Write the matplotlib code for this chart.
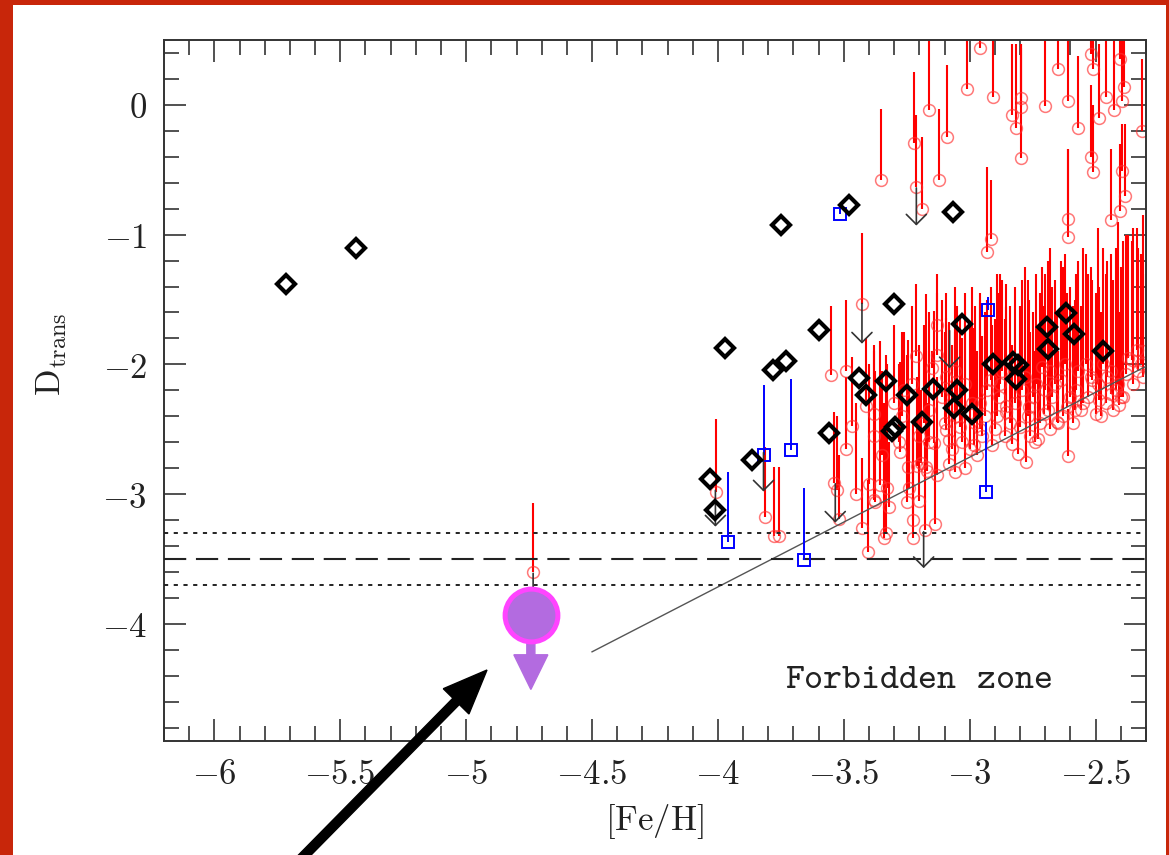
import numpy as np
import matplotlib
matplotlib.use('Agg')
import matplotlib.pyplot as plt
import matplotlib.patches as mpatches
import matplotlib.transforms as mtransforms
from matplotlib.ticker import MultipleLocator

plt.rcParams['mathtext.fontset'] = 'cm'
plt.rcParams['lines.scale_dashes'] = False

# black diamonds
dia_x = [-5.714, -5.439, -3.750, -3.479, -3.068, -3.299, -3.600, -3.030, -2.692, -2.619,
         -2.585, -3.971, -3.782, -3.731, -3.438, -3.412, -3.331, -3.250, -3.144, -3.051,
         -3.064, -2.990, -3.295, -3.308, -3.190, -3.560, -2.907, -2.830, -2.810, -2.818,
         -2.690, -2.471, -3.863, -4.030, -4.011]
dia_y = [-1.377, -1.100, -0.925, -0.771, -0.828, -1.533, -1.735, -1.690, -1.710, -1.605,
         -1.765, -1.872, -2.041, -1.977, -2.103, -2.238, -2.128, -2.238, -2.187, -2.200,
         -2.335, -2.380, -2.480, -2.515, -2.443, -2.527, -2.000, -1.982, -2.008, -2.110,
         -1.885, -1.897, -2.733, -2.880, -3.123]

# blue squares with bars
sq_x = [-3.517, -2.928, -3.819, -3.710, -3.961, -3.660, -2.937]
sq_y = [-0.840, -1.577, -2.695, -2.656, -3.372, -3.508, -2.987]
sq_top = [-0.80, -1.48, -2.156, -2.110, -2.828, -2.956, -2.443]

# black upper-limit arrows
lim_x = [-3.212, -3.428, -3.080, -3.819, -4.010, -3.534, -3.183, -4.734]
lim_top = [-0.64, -1.53, -1.74, -2.68, -2.97, -2.92, -3.29, -3.61]
lim_tip = [-0.93, -1.84, -2.03, -2.98, -3.25, -3.22, -3.57, -3.90]

# red circles with bars
red_x = [-3.351, -3.220, -3.212, -3.189, -3.160, -3.121, -3.089, -3.010, -2.960, -2.908,
         -2.930, -2.917, -2.831, -2.818, -2.798, -2.798, -2.798, -2.700, -2.650, -2.610,
         -2.610, -2.610, -2.568, -2.520, -2.509, -2.520, -2.509, -2.486, -2.460, -2.437,
         -2.427, -2.403, -2.397, -2.387, -2.397, -2.384, -2.403, -2.314,
         -4.734, -4.007, -3.812, -3.779, -3.759,
         -3.550, -3.491, -3.467, -3.491, -3.541, -3.527, -3.521, -3.428, -3.428, -3.404,
         -3.412, -3.381, -3.401, -3.375, -3.355, -3.328, -3.341, -3.331, -3.381, -3.275,
         -3.251, -3.246, -3.225, -3.225, -3.215, -3.210, -3.195, -3.175, -3.170, -3.176,
         -3.136, -3.140, -3.129, -3.129, -3.149, -3.096, -3.096, -3.083, -3.083, -3.057,
         -3.037, -3.017, -2.984, -2.980, -2.960, -2.950, -2.917, -2.884, -2.857, -2.854,
         -2.831, -2.809, -2.791, -2.778, -2.765, -2.738, -2.729, -2.712, -2.705, -2.672,
         -2.652, -2.650, -2.639, -2.612, -2.608, -2.579, -2.560, -2.539, -2.513, -2.486,
         -2.453, -2.440, -2.420, -2.407, -2.400, -2.380, -2.354, -2.336, -2.321, -2.310,
         -3.300, -3.270, -3.230, -3.200, -3.160, -3.110, -3.060, -3.020, -3.000, -2.940,
         -2.900, -2.870, -2.840, -2.760, -2.700, -2.680, -2.620, -2.590, -2.530, -2.500,
         -2.470, -2.430,
         -3.050, -3.030, -2.990, -2.970, -2.930, -2.910, -2.890, -2.860, -2.820, -2.800,
         -2.770, -2.750, -2.720, -2.690, -2.660, -2.630, -2.600, -2.570, -2.550, -2.520,
         -2.490, -2.460, -2.440, -2.410, -2.390, -2.370, -2.350, -2.330, -2.310, -3.280,
         -3.240, -3.200, -3.160, -3.130, -3.100, -3.350, -3.450, -3.320, -3.380, -3.260,
         -3.180, -3.070, -2.960, -2.880, -2.780, -2.740, -2.680, -2.580, -2.480]
red_y = [-0.579, -0.290, -0.636, -0.800, -0.040, -0.579, -0.244, 0.125, 0.440, 0.060,
         -1.136, -1.033, -0.080, -0.180, 0.056, -0.020, -0.410, -0.008, 0.280, 0.030,
         -0.880, -1.015, -0.180, 0.390, 0.280, -0.400, -0.520, -0.100, 0.060, -0.890,
         -0.040, 0.350, 0.030, 0.140, -0.510, -0.700, -0.815, -0.200,
         -3.600, -2.980, -3.175, -3.320, -3.320,
         -2.085, -2.051, -2.477, -2.649, -2.913, -2.969, -3.190, -1.538, -3.264, -3.444,
         -2.323, -2.379, -2.918, -3.059, -2.930, -2.956, -3.341, -3.300, -3.046, -2.674,
         -3.059, -2.790, -3.200, -3.341, -1.938, -2.780, -2.760, -2.790, -2.820, -3.277,
         -3.231, -2.605, -1.700, -1.931, -2.026, -2.098, -2.508, -2.764, -2.585, -2.828,
         -2.482, -2.802, -2.623, -2.450, -2.300, -2.550, -2.123, -2.251, -2.367, -2.323,
         -2.615, -2.687, -2.200, -2.751, -2.328, -2.149, -2.572, -2.021, -2.379, -2.251,
         -2.443, -2.451, -2.123, -2.328, -2.705, -2.200, -2.350, -1.995, -2.123, -2.277,
         -2.098, -2.230, -2.200, -2.315, -2.251, -2.072, -1.969, -1.892, -1.995, -2.100,
         -2.300, -2.400, -2.150, -2.550, -2.350, -2.250, -2.050, -2.150, -2.650, -2.400,
         -2.500, -2.050, -2.450, -2.550, -2.200, -2.500, -2.000, -2.450, -2.250, -2.380,
         -2.000, -2.350,
         -2.400, -2.600, -2.300, -2.700, -2.200, -2.620, -2.400, -2.550, -2.300, -2.480,
         -2.400, -2.250, -2.450, -2.350, -2.150, -2.400, -2.250, -2.050, -2.300, -2.100,
         -2.150, -2.300, -2.050, -2.150, -2.250, -1.950, -2.150, -2.050, -1.900, -2.600,
         -2.950, -3.050, -2.600, -2.850, -2.450, -2.700, -3.000, -3.100, -2.550, -2.200,
         -2.450, -2.650, -2.500, -2.150, -2.100, -2.600, -2.050, -2.350, -2.400]
red_top = [-0.03, 0.25, -0.08, -0.25, 0.60, -0.03, 0.31, 0.60, 0.60, 0.60,
           -0.48, -0.58, 0.47, 0.47, 0.47, 0.47, 0.44, 0.60, 0.60, 0.60,
           -0.34, -0.34, 0.38, 0.60, 0.60, 0.15, 0.00, 0.47, 0.60, -0.34,
           0.60, 0.60, 0.60, 0.60, -0.15, -0.15, -0.30, 0.35,
           -3.07, -2.42, -2.64, -2.79, -2.79,
           -1.55, -1.50, -1.94, -2.10, -2.37, -2.40, -2.70, -0.99, -2.72, -2.89,
           -1.80, -1.85, -2.00, -2.05, -1.82, -2.00, -2.30, -1.93, -2.50, -1.98,
           -1.93, -1.81, -2.50, -2.45, -1.38, -2.10, -2.20, -1.46, -2.30, -2.60,
           -2.60, -1.59, -1.30, -1.45, -1.90, -1.45, -1.64, -1.67, -1.70, -1.75,
           -1.62, -1.60, -1.72, -1.55, -1.50, -1.78, -1.40, -1.45, -1.56, -1.38,
           -1.85, -1.95, -1.35, -2.00, -1.50, -1.30, -1.70, -1.25, -1.55, -1.40,
           -1.60, -1.90, -1.20, -1.45, -2.34, -1.30, -1.55, -1.15, -1.35, -1.40,
           -1.20, -1.55, -1.10, -1.60, -1.25, -1.00, -1.05, -0.95, -1.15, -1.30,
           -1.70, -1.75, -1.55, -1.85, -1.60, -1.50, -1.40, -1.45, -1.70, -1.60,
           -1.65, -1.35, -1.55, -1.75, -1.30, -1.80, -1.15, -1.55, -1.30, -1.45,
           -1.10, -1.35,
           -1.55, -1.80, -1.40, -1.90, -1.50, -1.70, -1.30, -1.65, -1.40, -1.55,
           -1.35, -1.60, -1.45, -1.20, -1.35, -1.25, -1.40, -1.20, -1.10, -1.25,
           -0.95, -1.30, -1.15, -0.90, -1.05, -1.00, -0.95, -1.10, -0.85, -2.00,
           -2.20, -2.35, -1.90, -2.10, -1.75, -2.05, -2.30, -2.60, -1.90, -1.75,
           -1.70, -1.85, -1.45, -1.30, -1.25, -1.90, -1.10, -1.50, -1.60]

# new star (purple) and forbidden-zone boundary
star_x, star_y, star_tip = -4.743, -3.93, -4.505
zone_x = [-4.5, -2.3]
zone_y = [-4.215, -2.015]
dtrans_mid, dtrans_lo, dtrans_hi = -3.5, -3.7, -3.3

xticks = [-6, -5.5, -5, -4.5, -4, -3.5, -3, -2.5]
xtick_labels = ['$-6$', '$-5.5$', '$-5$', '$-4.5$', '$-4$', '$-3.5$', '$-3$', '$-2.5$']
yticks = [0, -1, -2, -3, -4]
ytick_labels = ['$0$', '$-1$', '$-2$', '$-3$', '$-4$']

fig = plt.figure(figsize=(11.69, 8.55), dpi=100)
ax = fig.add_axes([0.1403, 0.1337, 0.8400, 0.8195])

# red bars + circles
ax.vlines(red_x, red_y, red_top, colors='#ff0000', linewidth=1.5, zorder=2)
ax.plot(red_x, red_y, 'o', ms=8.5, mfc='none', mec='#ff3030', mew=1.1, alpha=0.65, zorder=2)

# boundary line and D_trans lines
ax.plot(zone_x, zone_y, color='#555555', lw=1.0, zorder=3)
ax.axhline(dtrans_mid, color='#222222', lw=1.5, dashes=(16, 7), zorder=3)
ax.axhline(dtrans_lo, color='#222222', lw=1.4, dashes=(3, 4), zorder=3)
ax.axhline(dtrans_hi, color='#222222', lw=1.4, dashes=(3, 4), zorder=3)

# blue squares
ax.vlines(sq_x, sq_y, sq_top, colors='#0000ff', linewidth=1.4, zorder=4)
ax.plot(sq_x, sq_y, 's', ms=9, mfc='none', mec='#0000ff', mew=1.4, zorder=4)

# upper limit arrows
for x, t, b in zip(lim_x, lim_top, lim_tip):
    ax.annotate('', xy=(x, b), xytext=(x, t),
                arrowprops=dict(arrowstyle='->,head_width=0.4,head_length=0.4',
                                color='#333333', lw=1.2, mutation_scale=18,
                                shrinkA=0, shrinkB=0), zorder=5)

# diamonds
ax.plot(dia_x, dia_y, 'D', ms=9.5, mfc='none', mec='black', mew=3.0, zorder=6)

# purple marker
ax.add_patch(mpatches.FancyArrow(star_x, -4.15, 0, star_tip + 4.15, width=0.032,
                                 head_width=0.135, head_length=0.267,
                                 length_includes_head=True, color='#b36be0', zorder=7))
ax.plot([star_x], [star_y], 'o', ms=38, mfc='#b36be0', mec='#ff44ff', mew=3.6, zorder=8)

ax.text(-3.733, -4.415, r'$\mathtt{Forbidden}\ \ \mathtt{zone}$', fontsize=26,
        ha='left', va='center', color='#222222')

ax.set_xlim(-6.2, -2.3)
ax.set_ylim(-4.9, 0.5)
ax.set_xticks(xticks)
ax.set_xticklabels(xtick_labels)
ax.set_yticks(yticks)
ax.set_yticklabels(ytick_labels)
ax.xaxis.set_minor_locator(MultipleLocator(0.1))
ax.yaxis.set_minor_locator(MultipleLocator(0.2))
ax.tick_params(which='both', direction='in', top=True, right=True, color='#222222',
               width=1.1, labelsize=25, pad=12, labelcolor='#222222')
ax.tick_params(which='major', length=15.5)
ax.tick_params(which='minor', length=10.5)
for s in ax.spines.values():
    s.set_linewidth(1.4)
    s.set_color('#333333')

fig.text(0.0445, 0.585, r'$\mathrm{D_{trans}}$', rotation=90, fontsize=25,
         ha='center', va='center', color='#222222')
fig.text(0.560, 0.0386, r'$[\mathrm{Fe/H}]$', fontsize=25, ha='center', va='center',
         color='#222222')

# big pointer arrow (figure pixels)
ident = mtransforms.IdentityTransform()
fig.add_artist(mpatches.FancyArrow(290, -15, 197, 200, width=9, head_width=36,
                                   head_length=44, length_includes_head=True,
                                   color='black', transform=ident))

# red frame
red = '#c8260a'
fig.add_artist(mpatches.Rectangle((0, 0), 13 / 1169, 1, transform=fig.transFigure,
                                  color=red, lw=0))
fig.add_artist(mpatches.Rectangle((0, 1 - 5 / 855), 1, 5 / 855, transform=fig.transFigure,
                                  color=red, lw=0))
fig.add_artist(mpatches.Rectangle((1166 / 1169, 0), 3 / 1169, 1, transform=fig.transFigure,
                                  color=red, lw=0))

fig.savefig('out.png', dpi=100)
